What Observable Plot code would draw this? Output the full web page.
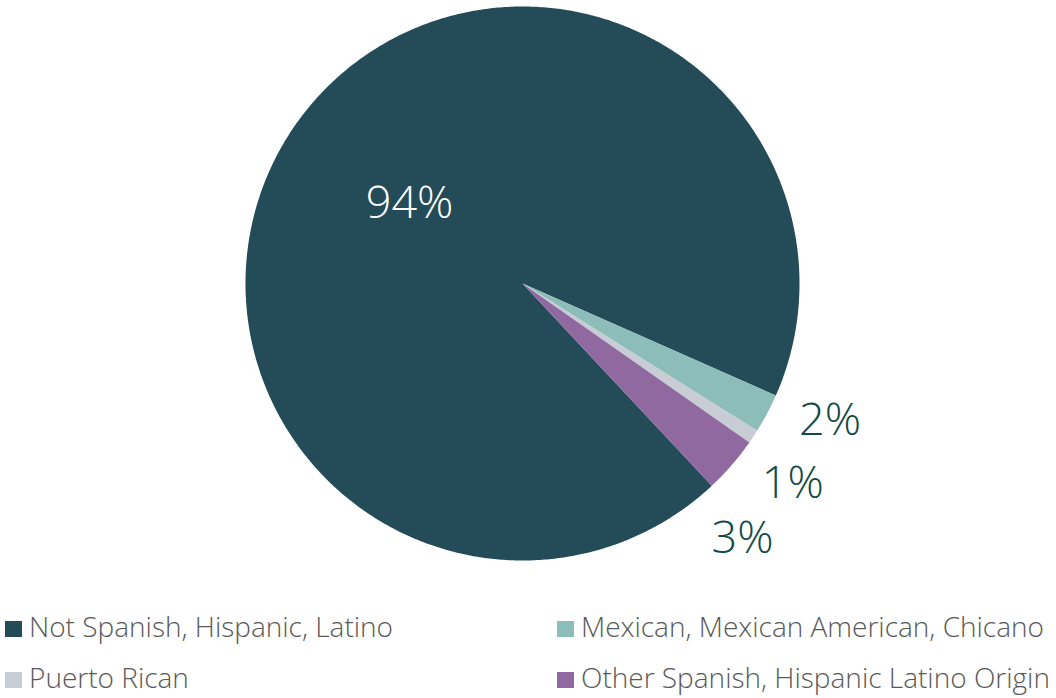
<!DOCTYPE html>
<html>
<head>
<meta charset="utf-8">
<script src="https://cdn.jsdelivr.net/npm/d3@7"></script>
<script src="https://cdn.jsdelivr.net/npm/@observablehq/plot@0.6"></script>
<style>
  html, body { margin: 0; padding: 0; background: #fff; }
  body { width: 1056px; height: 698px; overflow: hidden; font-family: "Open Sans", sans-serif; }
  #legend { position: relative; margin-top: 31px; height: 102px; }
  .item { position: absolute; font-size: 28px; font-weight: 300; color: #595959; line-height: 51px; white-space: nowrap; }
  .sw { display: inline-block; width: 17px; height: 16px; margin-right: 7px; }
</style>
</head>
<body>
<div id="chart"></div>
<div id="legend"></div>
<script>
const categories = ["Not Spanish, Hispanic, Latino", "Mexican, Mexican American, Chicano", "Puerto Rican", "Other Spanish, Hispanic Latino Origin"];
const values = [93.6, 2.3, 0.8, 3.3];
const labels = ["94%", "2%", "1%", "3%"];
const colors = ["#234b58", "#8dbdb9", "#c8cdd5", "#9069a1"];
const startDeg = 136.9;

const data = categories.map((c, i) => ({category: c, value: values[i], label: labels[i]}));
const pie = d3.pie().value(d => d.value).sort(null)
  .startAngle(startDeg * Math.PI / 180).endAngle(startDeg * Math.PI / 180 + 2 * Math.PI);
const arcs = pie(data);

// polygon points for each slice (unit circle, angle clockwise from top)
const pts = [];
arcs.forEach(a => {
  const n = Math.max(2, Math.ceil((a.endAngle - a.startAngle) / (Math.PI / 360)));
  pts.push({category: a.data.category, x: 0, y: 0});
  for (let k = 0; k <= n; k++) {
    const t = a.startAngle + (a.endAngle - a.startAngle) * k / n;
    pts.push({category: a.data.category, x: Math.sin(t), y: Math.cos(t)});
  }
  pts.push({category: a.data.category, x: 0, y: 0});
});

// label positions: big slice inside, small slices outside, spread apart
const mids = arcs.map(a => (a.startAngle + a.endAngle) / 2);
const outsideIdx = [1, 2, 3];
const meanOut = d3.mean(outsideIdx, i => mids[i]) + 2.4 * Math.PI / 180;
const spread = 12.6 * Math.PI / 180;
const labelData = arcs.map((a, i) => {
  let ang, r;
  if (i === 0) { ang = mids[0]; r = 0.5; }
  else { ang = meanOut + (outsideIdx.indexOf(i) - 1) * spread; r = 1.215; }
  return {label: a.data.label, x: r * Math.sin(ang), y: r * Math.cos(ang), inside: i === 0};
});

const R = 277, cx = 522, cy = 283;
const plot = Plot.plot({
  width: 1056,
  height: 570,
  margin: 0,
  x: {domain: [-1, 1], range: [cx - R, cx + R], axis: null},
  y: {domain: [-1, 1], range: [cy + R, cy - R], axis: null},
  color: {domain: categories, range: colors},
  style: {fontFamily: "Open Sans, sans-serif", background: "#fff"},
  marks: [
    Plot.line(pts, {x: "x", y: "y", z: "category", fill: "category", stroke: null, curve: "linear"}),
    Plot.text(labelData, {
      x: "x", y: "y", text: "label",
      fill: d => d.inside ? "#ffffff" : "#124a45",
      fontSize: 45, fontWeight: 300, textAnchor: "middle", lineAnchor: "middle"
    })
  ]
});
document.getElementById("chart").appendChild(plot);

const legendPos = [[5, 0], [557, 0], [5, 51], [557, 51]];
const order = [0, 1, 2, 3];
const leg = document.getElementById("legend");
order.forEach((i, k) => {
  const div = document.createElement("div");
  div.className = "item";
  div.style.left = legendPos[k][0] + "px";
  div.style.top = legendPos[k][1] + "px";
  const sw = document.createElement("span");
  sw.className = "sw";
  sw.style.background = colors[i];
  div.appendChild(sw);
  div.appendChild(document.createTextNode(categories[i]));
  leg.appendChild(div);
});
</script>
</body>
</html>
